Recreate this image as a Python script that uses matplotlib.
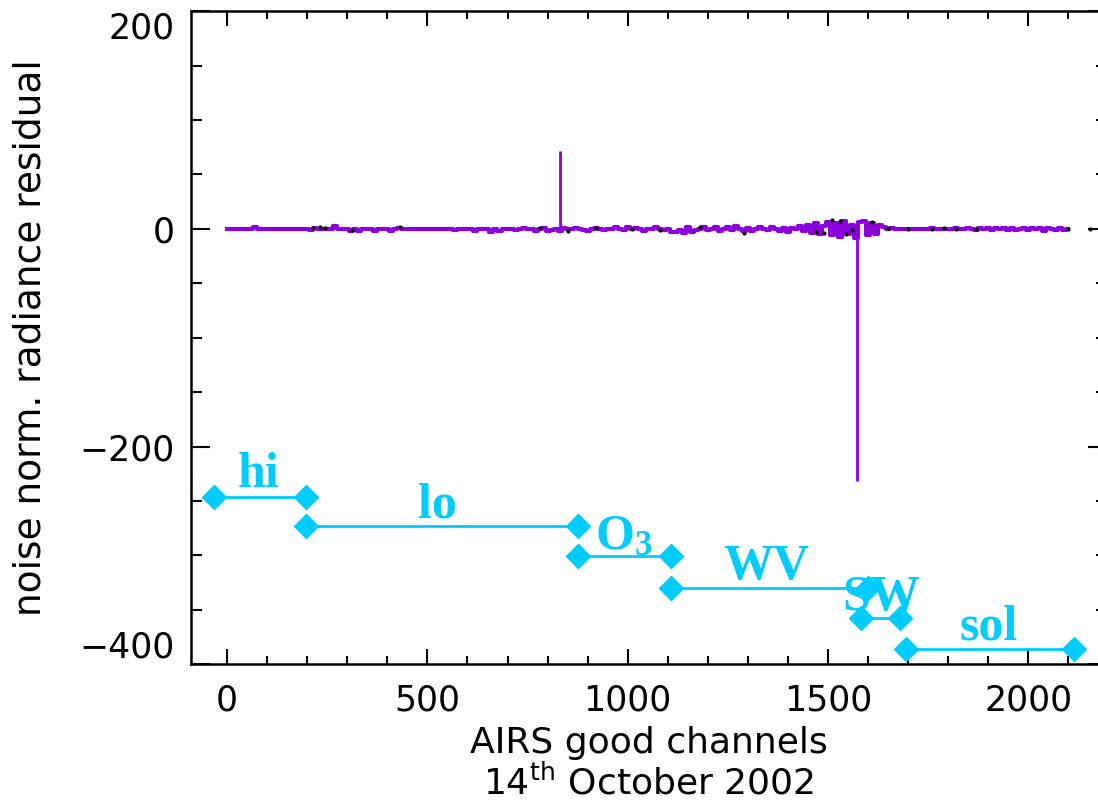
import numpy as np
import matplotlib
matplotlib.use('Agg')
import matplotlib.pyplot as plt
from matplotlib.ticker import MultipleLocator

plt.rcParams['font.family'] = ['DejaVu Sans']
plt.rcParams['mathtext.fontset'] = 'custom'
plt.rcParams['mathtext.rm'] = 'Liberation Serif'
plt.rcParams['mathtext.bf'] = 'Liberation Serif:bold'
plt.rcParams['mathtext.sf'] = 'DejaVu Sans'

# residual on every 10th channel
chan = list(range(0, 2110, 10))
resid = [0, 0, 0, 0, 0, 0, 0, 2, 0, 0,
         0, 0, 0, 0, 0, 0, 0, 0, 0, 0,
         0, -1, 1, 0, 0, 0, 0, 3, 0, 0,
         0, -2, 0, -2, 0, 0, 0, -2, 0, 0,
         0, -2, 0, 1, 0, 0, 0, 0, 0, 0,
         0, 0, 0, 0, 0, 0, 0, -1, 0, 0,
         0, 0, -2, 0, 0, 0, -3, 0, -2, 0,
         0, 0, -1, 0, 1, 0, 0, -2, 0, 1,
         -2, -1, 0, -2, 1, 0, 0, 1, 0, -1,
         -2, 0, 1, 0, -1, 0, 0, 2, 0, -1,
         2, 0, 1, 0, -2, 0, 0, 2, 0, -1,
         0, -3, -3, -1, -4, 2, -3, -1, 0, 2,
         -1, 0, 2, -2, 0, 2, -1, 3, 0, -2,
         1, -2, 0, 2, 0, -1, 2, 0, -2, 1,
         -3, 1, 0, 3, -2, 4, -4, 5, -5, 3,
         6, -6, 5, -7, 7, -5, 4, -8, 6, 7,
         -6, 5, -5, 4, 2, 0, 1, 0, 0, 0,
         0, 0, 0, 0, 0, 0, 1, 0, 0, 0,
         0, 0, 1, 0, 0, 1, 0, -1, 1, 0,
         1, -1, 1, 0, 1, -1, 1, -1, 0, 1,
         -1, 1, 0, 1, -2, 1, 0, -1, 1, -1,
         0]
# single-channel spikes
spike_chan = [832, 1572]
spike_val = [72, -232]

# black points peeking out from under the purple trace
dot_chan = [215, 232, 245, 312, 432, 780, 850, 920, 1010, 1080, 1180, 1290,
            1470, 1490, 1510, 1530, 1545, 1560, 1610, 1650, 1700, 1760, 1790, 1820, 1870, 2100, 2155]
dot_val = [1, 2, 1, -1, 2, 1, -2, 1, 0, -1, 2, -4, -3, -4, 8, 7, -5, -1, 6, 1, 0, 0, 1, 0, 0, 0, 0]

# channel groups
grp_name = ['hi', 'lo', r'$\mathbf{O_3}$', 'WV', 'SW', 'sol']
grp_start = [-32, 197, 877, 1107, 1582, 1695]
grp_end = [197, 877, 1107, 1600, 1680, 2115]
grp_y = [-246, -273, -301, -330, -358, -386]
lab_x = [78, 525, 990, 1345, 1632, 1900]
lab_y = [-237, -265, -294, -322, -350, -377]

fig = plt.figure(figsize=(10.98, 8.06), dpi=100)
ax = fig.add_axes([0.174, 0.176, 0.834, 0.81])

purple = '#8c00dc'
ax.plot(dot_chan, dot_val, 'k.', ms=4, zorder=3)
ax.plot(chan, resid, color=purple, lw=3, drawstyle='steps-mid', zorder=2)
ax.vlines(spike_chan, 0, spike_val, color=purple, lw=2, zorder=2)

cyan = '#00ccff'
for i in range(len(grp_name)):
    ax.plot([grp_start[i], grp_end[i]], [grp_y[i], grp_y[i]], color=cyan, lw=2,
            marker='D', ms=12, zorder=4)
    ax.text(lab_x[i], lab_y[i], grp_name[i], color=cyan, fontsize=36, fontweight='bold',
            family='Liberation Serif', ha='center', va='baseline', zorder=5)

ax.set_xlim(-90, 2196)
ax.set_ylim(-400, 200)
ax.xaxis.set_major_locator(MultipleLocator(500))
ax.xaxis.set_minor_locator(MultipleLocator(100))
ax.yaxis.set_major_locator(MultipleLocator(200))
ax.yaxis.set_minor_locator(MultipleLocator(50))
ax.tick_params(which='both', direction='in', top=True, right=True, width=1.5, labelsize=25)
ax.tick_params(axis='x', which='major', length=11, pad=14)
ax.tick_params(axis='x', which='minor', length=6)
ax.tick_params(axis='y', which='major', length=14, pad=12)
ax.tick_params(axis='y', which='minor', length=8)
for s in ax.spines.values():
    s.set_linewidth(1.8)

# keep the end labels inside the frame, as in the original
fig.canvas.draw()
for t in ax.get_yticklabels():
    txt = t.get_text()
    if txt == '200':
        t.set_va('top')
    elif txt.endswith('400'):
        t.set_va('bottom')

ax.set_xlabel('AIRS good channels\n14$^{\\mathsf{th}}$ October 2002', fontsize=26, labelpad=6,
              linespacing=1.15)
ax.set_ylabel('noise norm. radiance residual', fontsize=27, labelpad=22)

plt.savefig('out.png', dpi=100)
